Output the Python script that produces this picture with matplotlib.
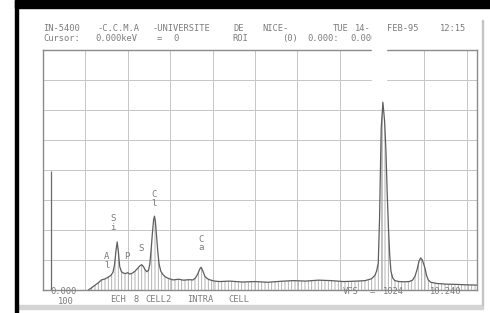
import matplotlib
matplotlib.use("Agg")
import matplotlib.pyplot as plt
from matplotlib.patches import Rectangle

# EDX spectrum (keV, counts, full scale 1024)
spec_kev = [1.07, 1.15, 1.23, 1.30, 1.38, 1.46, 1.54, 1.60, 1.65, 1.69, 1.72, 1.75,
            1.78, 1.81, 1.85, 1.90, 1.95, 2.00, 2.05, 2.11, 2.17, 2.23, 2.29, 2.33,
            2.37, 2.41, 2.45, 2.49, 2.52, 2.55, 2.58, 2.61, 2.63, 2.65, 2.68, 2.71,
            2.74, 2.78, 2.83, 2.88, 2.95, 3.07, 3.20, 3.31, 3.45, 3.54, 3.60, 3.65,
            3.70, 3.73, 3.77, 3.82, 3.88, 3.94, 4.05, 4.17, 4.40, 4.70, 5.00, 5.30,
            5.60, 5.90, 6.20, 6.50, 6.80, 7.10, 7.40, 7.60, 7.75, 7.83, 7.87, 7.91,
            7.94, 7.96, 7.98, 8.02, 8.06, 8.09, 8.12, 8.15, 8.18, 8.21, 8.25, 8.30,
            8.40, 8.52, 8.64, 8.72, 8.78, 8.83, 8.87, 8.91, 8.95, 8.98, 9.01, 9.05,
            9.09, 9.15, 9.29, 9.50, 9.75, 10.00, 10.24]
spec_counts = [0, 10, 21, 30, 43, 47, 55, 62, 75, 110, 165, 205,
               160, 100, 78, 72, 70, 74, 68, 72, 80, 92, 104, 108,
               100, 86, 78, 84, 110, 170, 240, 300, 315, 295, 230, 160,
               110, 80, 66, 57, 50, 43, 46, 42, 44, 43, 52, 68,
               90, 97, 82, 58, 48, 43, 38, 36, 38, 34, 36, 33,
               37, 40, 38, 42, 40, 36, 38, 40, 48, 62, 80, 114,
               300, 500, 690, 800, 720, 600, 420, 270, 150, 80, 52, 40,
               36, 35, 36, 42, 60, 90, 122, 137, 128, 112, 95, 62,
               43, 33, 28, 25, 24, 22, 21]

noise_kev = 0.18
noise_counts = 508

# element labels: (text, keV, counts)
elements = ["A\nl", "S\ni", "P", "S", "C\nl", "C\na"]
elem_kev = [1.51, 1.66, 1.97, 2.31, 2.63, 3.74]
elem_counts = [124, 286, 145, 179, 388, 198]

W, H = 490, 313
fig = plt.figure(figsize=(W / 100, H / 100), dpi=100)
fig.patch.set_facecolor("white")


def px(x, y):
    return x / W, 1 - y / H


ax = fig.add_axes([43 / W, 23 / H, 434 / W, 240 / H])
ax.set_xlim(0, 10.24)
ax.set_ylim(0, 1024)
ax.set_xticks(range(1, 11))
ax.set_yticks(range(128, 1024, 128))
ax.tick_params(length=0, labelbottom=False, labelleft=False)
ax.grid(True, color="#c6c6c6", lw=0.7)
ax.set_axisbelow(True)
for s in ax.spines.values():
    s.set_color("#8a8a8a")
    s.set_linewidth(1.0)

plt.rcParams["hatch.linewidth"] = 0.6
ax.fill_between(spec_kev, spec_counts, 0, facecolor="none",
                edgecolor="#a9a9a9", hatch="|||||", linewidth=0)
ax.plot(spec_kev, spec_counts, color="#5e5e5e", lw=0.9)
ax.vlines(noise_kev, 0, noise_counts, color="#6a6a6a", lw=0.9)

tc = "#7c7c7c"
mono = "DejaVu Sans Mono"
for lab, xk, yc in zip(elements, elem_kev, elem_counts):
    ax.text(xk, yc, lab, ha="center", va="center", fontsize=6.5,
            family=mono, color=tc, linespacing=0.95)

# header / footer text of the analyser printout
header = [("IN-5400", 43, 28.5), ("-C.C.M.A", 97, 28.5), ("-UNIVERSITE", 152, 28.5),
          ("DE", 233, 28.5), ("NICE-", 262, 28.5), ("TUE", 333, 28.5),
          ("14-", 355, 28.5), ("FEB-95", 387, 28.5), ("12:15", 440, 28.5),
          ("Cursor:", 43, 38.5), ("0.000keV", 95, 38.5), ("=", 157, 38.5), ("0", 173, 38.5),
          ("ROI", 232, 38.5), ("(0)", 282, 38.5), ("0.000:", 307, 38.5), ("0.000", 350, 38.5),
          ("0.000", 50, 291.5), ("100", 58, 301.5),
          ("ECH", 110, 299), ("8", 133, 299), ("CELL2", 145, 299),
          ("INTRA", 187, 299), ("CELL", 228, 299),
          ("VFS", 343, 291.5), ("=", 370, 291.5), ("1024", 383, 291.5),
          ("10.240", 430, 291.5)]
for txt, x, y in header:
    fig.text(*px(x, y), txt, ha="left", va="center", fontsize=6.3,
             family=mono, color=tc)

# scan artefacts: black border, paper edge, glare
fig.add_artist(Rectangle(px(15, H), 3 / W, 1, transform=fig.transFigure,
                         color="black", zorder=6))
fig.add_artist(Rectangle(px(15, 8), 1, 8 / H, transform=fig.transFigure,
                         color="black", zorder=6))
fig.add_artist(Rectangle(px(18, 309), (483 - 18) / W, 4 / H,
                         transform=fig.transFigure, color="#d4d4d4", zorder=5))
fig.add_artist(Rectangle(px(482, 305), 1.2 / W, 285 / H,
                         transform=fig.transFigure, color="#c4c4c4", zorder=5))
fig.add_artist(Rectangle(px(372, 100), 14 / W, 88 / H,
                         transform=fig.transFigure, color="white", zorder=5))

fig.savefig("out.png", dpi=100)
